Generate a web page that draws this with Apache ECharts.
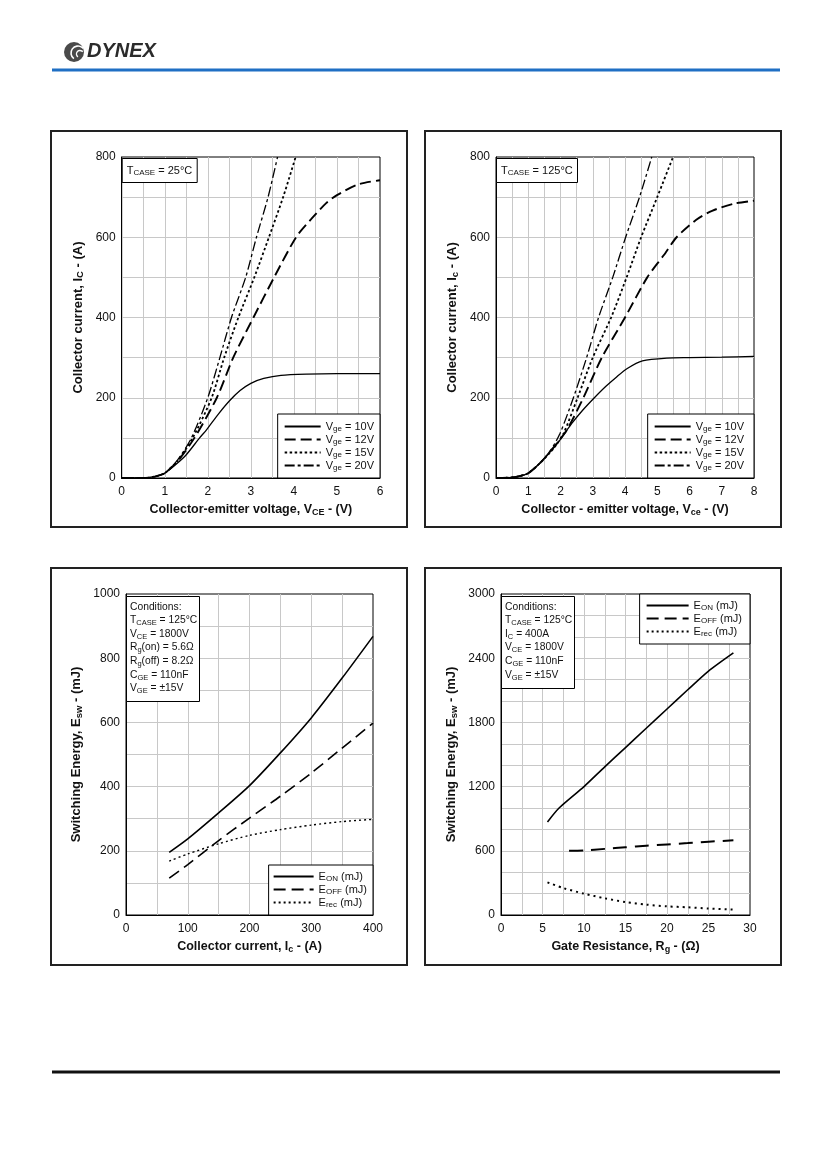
<!DOCTYPE html>
<html>
<head>
<meta charset="utf-8">
<script src="https://cdn.jsdelivr.net/npm/echarts@6/dist/echarts.min.js"></script>
<style>
html, body { margin: 0; padding: 0; background: #fff; }
#main { width: 827px; height: 1169px; }
</style>
</head>
<body>
<div id="main"></div>
<script>
// output characteristics, Tcase = 25°C  [Vce (V), Ic (A)]
const vge10_25 = [[0,0],[0.5,0],[0.7,2],[0.85,6],[1,12],[1.25,33],[1.5,58],[1.81,100],[1.97,120],[2.25,160],[2.5,192],[2.75,218],[3.0,236],[3.3,248],[3.7,256],[4.3,259],[5,260],[6,260]];
const vge12_25 = [[0,0],[0.5,0],[0.7,2],[0.85,6],[1,12],[1.3,42],[1.69,100],[2.21,200],[2.59,300],[3.06,400],[3.54,500],[4.05,600],[4.4,645],[4.75,685],[5,705],[5.5,732],[6,742]];
const vge15_25 = [[0,0],[0.5,0],[0.7,2],[0.85,6],[1,12],[1.3,43],[1.65,100],[2.09,200],[2.38,300],[2.71,400],[3.08,500],[3.42,600],[3.75,700],[4.04,800]];
const vge20_25 = [[0,0],[0.5,0],[0.7,2],[0.85,6],[1,12],[1.3,45],[1.62,100],[2.0,200],[2.28,300],[2.55,400],[2.88,500],[3.13,600],[3.4,700],[3.62,800]];

// output characteristics, Tcase = 125°C
const vge10_125 = [[0,0],[0.4,1],[0.7,4],[1,12],[1.36,37],[1.88,84],[2.35,136],[2.7,170],[3.05,200],[3.4,228],[3.74,252],[4.07,273],[4.54,292],[5.3,299],[6,300],[7,301],[8,303]];
const vge12_125 = [[0,0],[0.4,1],[0.7,4],[1,12],[1.4,40],[1.88,86],[2.2,120],[2.71,200],[3.28,300],[4.0,400],[4.69,500],[5.2,555],[5.6,600],[6.2,643],[6.7,666],[7.4,684],[8,691]];
const vge15_125 = [[0,0],[0.4,1],[0.7,4],[1,12],[1.4,40],[1.8,75],[2.1,112],[2.53,200],[3.0,300],[3.57,400],[4.05,500],[4.5,600],[5.0,700],[5.49,800]];
const vge20_125 = [[0,0],[0.4,1],[0.7,4],[1,12],[1.4,40],[1.7,70],[1.98,110],[2.4,200],[2.81,300],[3.18,400],[3.62,500],[4.02,600],[4.45,700],[4.83,800]];

// switching energy vs collector current  [Ic (A), E (mJ)]
const eon_ic = [[70,195],[100,237],[150,318],[200,403],[250,505],[300,614],[350,738],[400,868]];
const eoff_ic = [[70,115],[100,157],[150,232],[200,302],[250,370],[300,442],[350,520],[400,598]];
const erec_ic = [[70,168],[100,190],[150,222],[200,248],[250,266],[300,280],[350,291],[400,298]];

// switching energy vs gate resistance  [Rg (ohm), E (mJ)]
const eon_rg = [[5.6,870],[7,1000],[10,1200],[12.5,1385],[15,1565],[17.5,1745],[20,1925],[22.5,2105],[25,2280],[28,2450]];
const eoff_rg = [[8.2,600],[10,604],[12.5,618],[15,633],[17.5,647],[20,660],[22.5,672],[25,685],[28,698]];
const erec_rg = [[5.6,305],[7.5,252],[10,199],[12.5,156],[15,121],[17.5,97],[20,81],[22.5,72],[25,60],[28,50]];

const vgeNames = ['10V', '12V', '15V', '20V'];
const eNames = ['ON', 'OFF', 'rec'];

const FONT = '"Liberation Sans", Arial, sans-serif';
const INK = '#111';

const rich = {
    n: { fontSize: 11, fontWeight: 'normal', fontFamily: FONT, color: INK, lineHeight: 13 },
    s: { fontSize: 8, fontWeight: 'normal', fontFamily: FONT, color: INK, lineHeight: 8, verticalAlign: 'bottom' },
    c: { fontSize: 10.3, fontWeight: 'normal', fontFamily: FONT, color: INK, lineHeight: 13.6 },
    cs: { fontSize: 7.5, fontWeight: 'normal', fontFamily: FONT, color: INK, lineHeight: 8, verticalAlign: 'bottom' }
};
const richName = {
    b: { fontSize: 12.5, fontWeight: 'bold', fontFamily: FONT, color: INK, lineHeight: 15 },
    bs: { fontSize: 9, fontWeight: 'bold', fontFamily: FONT, color: INK, lineHeight: 9, verticalAlign: 'bottom' },
    y: { fontSize: 13, fontWeight: 'bold', fontFamily: FONT, color: INK, lineHeight: 15 },
    ys: { fontSize: 9.5, fontWeight: 'bold', fontFamily: FONT, color: INK, lineHeight: 9, verticalAlign: 'bottom' }
};

function onStep(v, step) {
    const r = v / step;
    return Math.abs(r - Math.round(r)) < 1e-6;
}

function valueAxis(gi, min, max, step, labelStep, name, gap, isY) {
    return {
        type: 'value', gridIndex: gi, min: min, max: max, interval: step,
        name: name, nameLocation: 'middle', nameGap: gap,
        nameTextStyle: { rich: richName },
        axisLine: { show: true, onZero: false, lineStyle: { color: '#000', width: 1 } },
        axisTick: { show: false },
        axisLabel: {
            margin: isY ? 6 : 8, fontSize: 12, color: INK, fontFamily: FONT,
            formatter: v => onStep(v, labelStep) ? String(v) : ''
        },
        splitLine: { show: true, showMinLine: false, showMaxLine: false, lineStyle: { color: '#c8c8c8', width: 1 } }
    };
}

// line looks
const lsVge = {
    '10V': { width: 1.3, type: 'solid' },
    '12V': { width: 1.9, type: [11, 5] },
    '15V': { width: 1.8, type: [2.5, 2.5] },
    '20V': { width: 1.3, type: [10, 3, 3, 3] }
};
const lsE = {
    'ON': { width: 1.6, type: 'solid' },
    'OFF': { width: 1.6, type: [12, 6] },
    'rec': { width: 1.4, type: [2, 3] }
};

function curve(name, gi, data, ls) {
    return {
        name: name, type: 'line', xAxisIndex: gi, yAxisIndex: gi, data: data,
        symbol: 'none', showSymbol: false, smooth: 0.25,
        itemStyle: { color: '#000' },
        lineStyle: { color: '#000', width: ls.width, type: ls.type },
        emphasis: { disabled: true }
    };
}

const legendBase = {
    orient: 'vertical', itemWidth: 36, itemHeight: 1, itemGap: 1,
    itemStyle: { opacity: 0 },
    borderColor: '#000', borderWidth: 1, borderRadius: 0, backgroundColor: '#fff',
    selectedMode: false, textStyle: { rich: rich }
};

const option = {
    animation: false,
    backgroundColor: '#fff',
    grid: [
        { left: 121.7, top: 157, width: 258.3, height: 321 },
        { left: 496, top: 157, width: 258, height: 321 },
        { left: 126, top: 594, width: 247, height: 321 },
        { left: 501, top: 594, width: 249, height: 321 }
    ].map(g => Object.assign(g, { show: true, borderColor: '#000', borderWidth: 1, backgroundColor: 'transparent' })),
    xAxis: [
        valueAxis(0, 0, 6, 0.5, 1, '{b|Collector-emitter voltage, V}{bs|CE}{b| - (V)}', 24),
        valueAxis(1, 0, 8, 0.5, 1, '{b|Collector - emitter voltage, V}{bs|ce}{b| - (V)}', 24),
        valueAxis(2, 0, 400, 50, 100, '{b|Collector current, I}{bs|c}{b| - (A)}', 24),
        valueAxis(3, 0, 30, 2.5, 5, '{b|Gate Resistance, R}{bs|g}{b| - (Ω)}', 24)
    ],
    yAxis: [
        valueAxis(0, 0, 800, 100, 200, '{y|Collector current, I}{ys|C}{y| - (A)}', 36, true),
        valueAxis(1, 0, 800, 100, 200, '{y|Collector current, I}{ys|c}{y| - (A)}', 36, true),
        valueAxis(2, 0, 1000, 100, 200, '{y|Switching Energy, E}{ys|sw}{y| - (mJ)}', 42, true),
        valueAxis(3, 0, 3000, 200, 600, '{y|Switching Energy, E}{ys|sw}{y| - (mJ)}', 42, true)
    ],
    title: [
        { left: 121.7, top: 157, text: '{n|T}{s|CASE}{n| = 25°C}' },
        { left: 496, top: 157, text: '{n|T}{s|CASE}{n| = 125°C}' },
        { left: 126, top: 594, text: [
            '{c|Conditions:}',
            '{c|T}{cs|CASE}{c| = 125°C}',
            '{c|V}{cs|CE}{c| = 1800V}',
            '{c|R}{cs|g}{c|(on) = 5.6Ω}',
            '{c|R}{cs|g}{c|(off) = 8.2Ω}',
            '{c|C}{cs|GE}{c| = 110nF}',
            '{c|V}{cs|GE}{c| = ±15V}'].join('\n') },
        { left: 501, top: 594, text: [
            '{c|Conditions:}',
            '{c|T}{cs|CASE}{c| = 125°C}',
            '{c|I}{cs|C}{c| = 400A}',
            '{c|V}{cs|CE}{c| = 1800V}',
            '{c|C}{cs|GE}{c| = 110nF}',
            '{c|V}{cs|GE}{c| = ±15V}'].join('\n') }
    ].map((t, i) => Object.assign(t, {
        padding: i < 2 ? [7, 5, 6, 5] : [6, 3, 7, 4],
        borderColor: '#000', borderWidth: 1, backgroundColor: '#fff',
        textStyle: { fontWeight: 'normal', rich: rich }
    })),
    legend: [
        Object.assign({}, legendBase, { data: vgeNames, right: 447, bottom: 691, padding: [7, 6, 6, 6],
            formatter: n => '{n|V}{s|ge}{n| = ' + n + '}' }),
        Object.assign({}, legendBase, { data: vgeNames, right: 73, bottom: 691, padding: [7, 10, 6, 6],
            formatter: n => '{n|V}{s|ge}{n| = ' + n + '}' }),
        Object.assign({}, legendBase, { data: eNames, right: 454, bottom: 254, padding: [6, 6, 6, 4], itemWidth: 40,
            formatter: n => '{n|E}{s|' + n + '}{n| (mJ)}' }),
        Object.assign({}, legendBase, { data: eNames, right: 77, top: 594, padding: [6, 8, 6, 6], itemWidth: 42,
            formatter: n => '{n|E}{s|' + n + '}{n| (mJ)}' })
    ],
    series: [
        curve('10V', 0, vge10_25, lsVge['10V']),
        curve('12V', 0, vge12_25, lsVge['12V']),
        curve('15V', 0, vge15_25, lsVge['15V']),
        curve('20V', 0, vge20_25, lsVge['20V']),
        curve('10V', 1, vge10_125, lsVge['10V']),
        curve('12V', 1, vge12_125, lsVge['12V']),
        curve('15V', 1, vge15_125, lsVge['15V']),
        curve('20V', 1, vge20_125, lsVge['20V']),
        curve('ON', 2, eon_ic, lsE['ON']),
        curve('OFF', 2, eoff_ic, lsE['OFF']),
        curve('rec', 2, erec_ic, lsE['rec']),
        curve('ON', 3, eon_rg, lsE['ON']),
        curve('OFF', 3, eoff_rg, { width: 2, type: [14, 8] }),
        curve('rec', 3, erec_rg, { width: 2, type: [2, 4] })
    ],
    graphic: [
        // panel frames
        { type: 'rect', shape: { x: 51, y: 131, width: 356, height: 396 }, style: { fill: 'none', stroke: '#222', lineWidth: 2 } },
        { type: 'rect', shape: { x: 425, y: 131, width: 356, height: 396 }, style: { fill: 'none', stroke: '#222', lineWidth: 2 } },
        { type: 'rect', shape: { x: 51, y: 568, width: 356, height: 397 }, style: { fill: 'none', stroke: '#222', lineWidth: 2 } },
        { type: 'rect', shape: { x: 425, y: 568, width: 356, height: 397 }, style: { fill: 'none', stroke: '#222', lineWidth: 2 } },
        // header rule and footer rule
        { type: 'line', shape: { x1: 52, y1: 70, x2: 780, y2: 70 }, style: { stroke: '#1f6fc4', lineWidth: 3 } },
        { type: 'line', shape: { x1: 52, y1: 1072, x2: 780, y2: 1072 }, style: { stroke: '#111', lineWidth: 3 } },
        // logo
        { type: 'circle', shape: { cx: 74, cy: 52, r: 10 }, style: { fill: '#4a4a4a' } },
        { type: 'arc', shape: { cx: 78, cy: 53, r: 7, startAngle: 2.2, endAngle: 5.6 }, style: { stroke: '#fff', lineWidth: 1.6, fill: 'none' } },
        { type: 'arc', shape: { cx: 80, cy: 54, r: 3.5, startAngle: 2.2, endAngle: 5.6 }, style: { stroke: '#fff', lineWidth: 1.4, fill: 'none' } },
        { type: 'text', x: 87, y: 41, style: { text: 'DYNEX', font: 'italic 900 20px ' + FONT, fill: '#2b2b2b' } }
    ]
};

const chart = echarts.init(document.getElementById('main'));
chart.setOption(option);
</script>
</body>
</html>
